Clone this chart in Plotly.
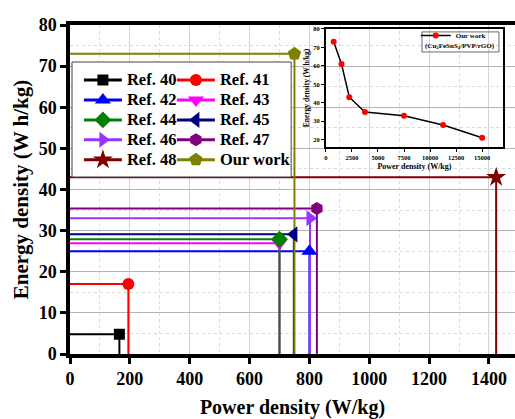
import plotly.graph_objects as go

# ---------------- data ----------------
refs = ["Ref. 40", "Ref. 41", "Ref. 42", "Ref. 43", "Ref. 44",
        "Ref. 45", "Ref. 46", "Ref. 47", "Ref. 48", "Our work"]
power = [165, 195, 800, 700, 700, 748, 802, 825, 1424, 750]
energy = [4.8, 17, 25, 26.9, 27.9, 29.1, 33, 35.4, 43, 73]

inset_power = [750, 1500, 2250, 3750, 7500, 11250, 15000]
inset_energy = [73, 61, 43, 35, 33, 28, 21]

x_ticks = [0, 200, 400, 600, 800, 1000, 1200, 1400]
y_ticks = [0, 10, 20, 30, 40, 50, 60, 70, 80]
inset_x_ticks = [0, 2500, 5000, 7500, 10000, 12500, 15000]
inset_y_ticks = [20, 30, 40, 50, 60, 70, 80]

# ---------------- styles ----------------
colors = ["#000000", "#FF0000", "#0000FF", "#FF00FF", "#008000",
          "#000080", "#9933FF", "#800080", "#800000", "#808000"]
symbols = ["square", "circle", "triangle-up", "triangle-down", "diamond",
           "triangle-left", "triangle-right", "hexagon", "star", "pentagon"]
msizes = [11, 12, 14, 14, 13, 14, 14, 13, 15, 14]
FONT = "Liberation Serif"

fig = go.Figure()

# drop lines (to axes)
for i in range(len(refs)):
    fig.add_trace(go.Scatter(
        x=[0, power[i], power[i]], y=[energy[i], energy[i], 0],
        mode="lines", line=dict(color=colors[i], width=2),
        showlegend=False, hoverinfo="skip"))

# markers with legend entries (left column: even idx, right column: odd idx)
for i in range(len(refs)):
    fig.add_trace(go.Scatter(
        x=[power[i]], y=[energy[i]],
        name='<span style="font-size:16.5px">' + refs[i] + '</span>',
        mode="lines+markers", line=dict(color=colors[i], width=3),
        marker=dict(symbol=symbols[i], size=msizes[i], color=colors[i]),
        legend="legend" if i % 2 == 0 else "legend2"))

# inset
fig.add_trace(go.Scatter(
    x=inset_power, y=inset_energy, name="Our work",
    mode="lines+markers", line=dict(color="black", width=1.5),
    marker=dict(symbol="circle", size=6, color="#FF0000"),
    xaxis="x2", yaxis="y2", legend="legend3"))

axis_font = dict(family=FONT, size=18, color="black", weight="bold")

fig.update_layout(
    width=515, height=419,
    margin=dict(l=70, r=0, t=25, b=65),
    paper_bgcolor="white", plot_bgcolor="rgba(0,0,0,0)",
    xaxis=dict(range=[0, 1487], tickvals=x_ticks, ticks="outside", ticklen=6,
               tickwidth=3, tickcolor="black", showline=True, linewidth=3.5,
               linecolor="black", mirror=True, tickfont=axis_font, automargin=False,
               showgrid=True, gridcolor="#d4d4d4", gridwidth=1, zeroline=False,
               title=dict(text="Power density (W/kg)", standoff=16,
                          font=dict(family=FONT, size=20, color="black", weight="bold")),
               minor=dict(dtick=100, tick0=0, showgrid=True, gridcolor="#dcdcdc",
                          griddash="dot", gridwidth=1)),
    yaxis=dict(range=[0, 80], tickvals=y_ticks, ticks="outside", ticklen=6,
               tickwidth=3, tickcolor="black", showline=True, linewidth=3.5,
               linecolor="black", mirror=False, tickfont=axis_font, automargin=False,
               showgrid=True, gridcolor="#b4b4b4", gridwidth=1, zeroline=False,
               title=dict(text="Energy density (W h/kg)", standoff=5,
                          font=dict(family=FONT, size=21, color="black", weight="bold")),
               minor=dict(dtick=5, tick0=0, showgrid=True, gridcolor="#d8d8d8",
                          griddash="dot", gridwidth=1)),
    xaxis2=dict(domain=[0.575, 0.973], anchor="y2", range=[0, 17000],
                tickvals=inset_x_ticks, tickformat="d", ticks="outside", ticklen=3,
                tickwidth=1, automargin=False,
                tickcolor="black", showline=True, linewidth=1.5, linecolor="black",
                mirror=True, showgrid=False, zeroline=False,
                tickfont=dict(family=FONT, size=6.5, color="black", weight="bold"),
                title=dict(text="Power density (W/kg)", standoff=4,
                           font=dict(family=FONT, size=8, color="black", weight="bold"))),
    yaxis2=dict(domain=[0.629, 0.988], anchor="x2", range=[16, 80],
                tickvals=inset_y_ticks, ticks="outside", ticklen=3, tickwidth=1,
                tickcolor="black", showline=True, linewidth=1.5, linecolor="black",
                mirror=True, showgrid=False, zeroline=False, automargin=False,
                tickfont=dict(family=FONT, size=6.5, color="black", weight="bold"),
                title=dict(text="Energy density (W h/kg)", standoff=3,
                           font=dict(family=FONT, size=7.5, color="black", weight="bold"))),
    legend=dict(x=0.02, y=0.878, xanchor="left", yanchor="top",
                bgcolor="rgba(0,0,0,0)", borderwidth=0, itemwidth=38,
                font=dict(family=FONT, size=13, color="black", weight="bold")),
    legend2=dict(x=0.229, y=0.878, xanchor="left", yanchor="top",
                 bgcolor="rgba(0,0,0,0)", borderwidth=0, itemwidth=38,
                 font=dict(family=FONT, size=13, color="black", weight="bold")),
    legend3=dict(x=0.777, y=1.012, xanchor="left", yanchor="top",
                 bgcolor="rgba(0,0,0,0)", borderwidth=0, itemwidth=30,
                 font=dict(family=FONT, size=7, color="black", weight="bold")),
    shapes=[
        dict(type="rect", xref="paper", yref="paper", x0=0.0045, x1=0.497,
             y0=0.538, y1=0.8875, fillcolor="white",
             line=dict(color="#444444", width=1), layer="above"),
        dict(type="rect", xref="paper", yref="paper", x0=0.791, x1=0.964,
             y0=0.918, y1=0.979, fillcolor="rgba(0,0,0,0)",
             line=dict(color="#444444", width=0.8), layer="above"),
    ],
    annotations=[
        dict(text="(Cu<sub>2</sub>FeSnS<sub>4</sub>/PVP/rGO)", xref="paper", yref="paper",
             x=0.877, y=0.937, showarrow=False, xanchor="center", yanchor="middle",
             font=dict(family=FONT, size=7, color="black", weight="bold")),
    ],
)

fig.write_html("out.html", config={"displayModeBar": False},
               post_script="document.body.style.margin='0';document.body.style.overflow='hidden';")
